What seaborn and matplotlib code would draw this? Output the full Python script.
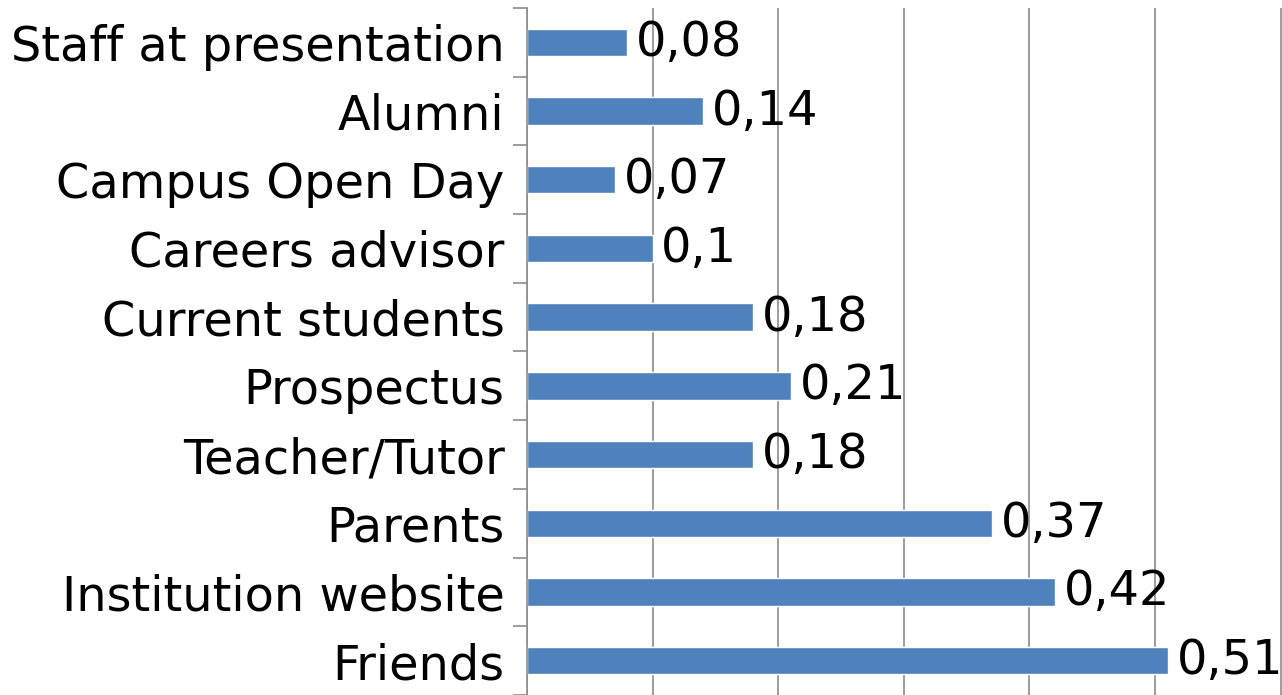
import seaborn as sns
import matplotlib.pyplot as plt
import pandas as pd
from matplotlib.ticker import MultipleLocator

# Данные (сверху вниз)
categories = ["Staff at presentation", "Alumni", "Campus Open Day", "Careers advisor",
              "Current students", "Prospectus", "Teacher/Tutor", "Parents",
              "Institution website", "Friends"]
values = [0.08, 0.14, 0.07, 0.1, 0.18, 0.21, 0.18, 0.37, 0.42, 0.51]

df = pd.DataFrame({"source": categories, "share": values})

sns.set_style("white")
plt.rcParams['font.family'] = ['DejaVu Sans']

fig = plt.figure(figsize=(12.82, 6.95), dpi=100)
ax = fig.add_axes([0.411, 0.0, 0.589, 0.9885])

sns.barplot(data=df, y="source", x="share", order=categories, color="#4F81BD",
            width=0.4, saturation=1, ax=ax)

ax.set_xlim(0, 0.601)
ax.set_ylim(9.5, -0.5)
ax.xaxis.set_major_locator(MultipleLocator(0.1))
ax.grid(axis="x", color="#8c8c8c", linewidth=1.2)
ax.set_axisbelow(True)
ax.tick_params(axis="x", labelbottom=False, length=0)
ax.set_xlabel("")
ax.set_ylabel("")

# метки категорий без засечек, засечки на границах
ax.tick_params(axis="y", which="major", left=False, length=0, pad=16,
               labelsize=34.5, labelcolor="black")
ax.set_yticks([i - 0.5 for i in range(11)], minor=True)
ax.tick_params(axis="y", which="minor", left=True, length=10, width=1.2,
               color="#8c8c8c")

for s in ["top", "right", "bottom"]:
    ax.spines[s].set_visible(False)
ax.spines["left"].set_color("#8c8c8c")
ax.spines["left"].set_linewidth(1.2)

for i, v in enumerate(values):
    ax.text(v + 0.007, i, str(v).replace(".", ","), va="center", ha="left",
            fontsize=34.5, color="black")

fig.savefig("out.png", dpi=100)
